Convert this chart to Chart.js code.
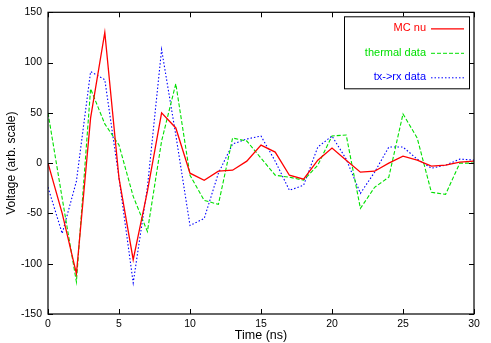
<!DOCTYPE html>
<html>
<head>
<meta charset="utf-8">
<script src="https://cdn.jsdelivr.net/npm/chart.js@4"></script>
<style>
  html, body { margin: 0; padding: 0; background: #fff; }
  #wrap { width: 491px; height: 343px; }
</style>
</head>
<body>
<div id="wrap"><canvas id="voltChart"></canvas></div>
<script>
// Time samples (ns) and the three voltage traces
const timeNs = [0, 1, 2, 3, 4, 5, 6, 7, 8, 9, 10, 11, 12, 13, 14, 15, 16, 17, 18, 19, 20, 21, 22, 23, 24, 25, 26, 27, 28, 29, 30];
const mcNu = [0, -50, -110, 45, 130, -15, -96, -28, 50, 35, -10, -17, -8, -7, 2, 18, 11, -12, -16, 3, 15, 3, -9, -8, 0, 7, 3, -3, -2, 1, 2];
const thermal = [50, -35, -118, 74, 39, 18, -33, -68, 22, 79, -12, -37, -41, 25, 22, 5, -12, -14, -17, -2, 27, 28, -45, -24, -14, 49, 25, -29, -31, 0, 0];
const txRx = [-24, -70, -18, 91, 83, -15, -119, -24, 113, 28, -62, -55, -10, 19, 24, 27, 2, -27, -22, 16, 27, 4, -30, -9, 16, 16, 4, -5, -2, 4, 3];

const xTicks = [0, 5, 10, 15, 20, 25, 30];
const yTicks = [-150, -100, -50, 0, 50, 100, 150];

const seriesNames = ['MC nu', 'thermal data', 'tx->rx data'];
const seriesColors = ['#ff0000', '#00e000', '#0000ff'];
const seriesDash = [[], [4, 2], [1.5, 2]];

const FONT = '"Liberation Sans", Arial, sans-serif';

const toPoints = vals => vals.map((v, i) => ({ x: timeNs[i], y: v }));

// gnuplot style frame with inward ticks on all four sides
const framePlugin = {
  id: 'frame',
  afterDraw(chart) {
    const { ctx, chartArea: a, scales } = chart;
    ctx.save();
    ctx.strokeStyle = '#000';
    ctx.lineWidth = 1;
    ctx.beginPath();
    xTicks.forEach(t => {
      const px = Math.round(scales.x.getPixelForValue(t)) + 0.5;
      ctx.moveTo(px, a.bottom); ctx.lineTo(px, a.bottom - 5);
      ctx.moveTo(px, a.top); ctx.lineTo(px, a.top + 5);
    });
    yTicks.forEach(t => {
      const py = Math.round(scales.y.getPixelForValue(t)) + 0.5;
      ctx.moveTo(a.left, py); ctx.lineTo(a.left + 5, py);
      ctx.moveTo(a.right, py); ctx.lineTo(a.right - 5, py);
    });
    ctx.stroke();
    ctx.lineWidth = 1.2;
    ctx.strokeRect(a.left, a.top, a.right - a.left, a.bottom - a.top);
    ctx.restore();
  }
};

// Legend box: label text right-aligned, then a line sample
const legendPlugin = {
  id: 'boxLegend',
  afterDraw(chart) {
    const { ctx, chartArea: a } = chart;
    const bx = a.right - 130, by = a.top + 4, bw = 125, bh = 72;
    ctx.save();
    ctx.fillStyle = '#fff';
    ctx.fillRect(bx, by, bw, bh);
    ctx.strokeStyle = '#000';
    ctx.lineWidth = 1;
    ctx.strokeRect(bx + 0.5, by + 0.5, bw, bh);
    ctx.font = '11px ' + FONT;
    ctx.textAlign = 'right';
    ctx.textBaseline = 'middle';
    seriesNames.forEach((name, i) => {
      const y = by + 12 + i * 24.5;
      ctx.fillStyle = seriesColors[i];
      ctx.fillText(name, bx + 82, y);
      ctx.strokeStyle = seriesColors[i];
      ctx.lineWidth = i === 0 ? 1.3 : 1;
      ctx.setLineDash(seriesDash[i]);
      ctx.beginPath();
      ctx.moveTo(bx + 87, y + 0.5);
      ctx.lineTo(bx + 120, y + 0.5);
      ctx.stroke();
    });
    ctx.restore();
  }
};

new Chart(document.getElementById('voltChart'), {
  type: 'line',
  data: {
    datasets: [mcNu, thermal, txRx].map((vals, i) => ({
      label: seriesNames[i],
      data: toPoints(vals),
      borderColor: seriesColors[i],
      borderDash: seriesDash[i],
      borderWidth: i === 0 ? 1.3 : 1.1,
      pointRadius: 0,
      tension: 0,
      fill: false,
    })),
  },
  options: {
    responsive: true,
    maintainAspectRatio: false,
    animation: false,
    layout: { padding: { left: 0, top: 11, right: 17, bottom: 0 } },
    plugins: {
      legend: { display: false },
      tooltip: { enabled: false },
    },
    scales: {
      x: {
        type: 'linear',
        min: 0,
        max: 30,
        afterFit: s => { s.height = 29; },
        afterBuildTicks: s => { s.ticks = xTicks.map(v => ({ value: v })); },
        grid: { display: false, drawTicks: false },
        border: { display: false },
        ticks: { color: '#000', font: { family: FONT, size: 10.5 }, padding: 4 },
        title: { display: true, text: 'Time (ns)', color: '#000', font: { family: FONT, size: 12.5 }, padding: { top: 0, bottom: 0 } },
      },
      y: {
        type: 'linear',
        min: -150,
        max: 150,
        afterFit: s => { s.width = 48; },
        afterBuildTicks: s => { s.ticks = yTicks.map(v => ({ value: v })); },
        grid: { display: false, drawTicks: false },
        border: { display: false },
        ticks: { color: '#000', font: { family: FONT, size: 10.5 }, padding: 6 },
        title: { display: true, text: 'Voltage (arb. scale)', color: '#000', font: { family: FONT, size: 12 }, padding: { top: 4, bottom: 0 } },
      },
    },
  },
  plugins: [framePlugin, legendPlugin],
});
</script>
</body>
</html>
